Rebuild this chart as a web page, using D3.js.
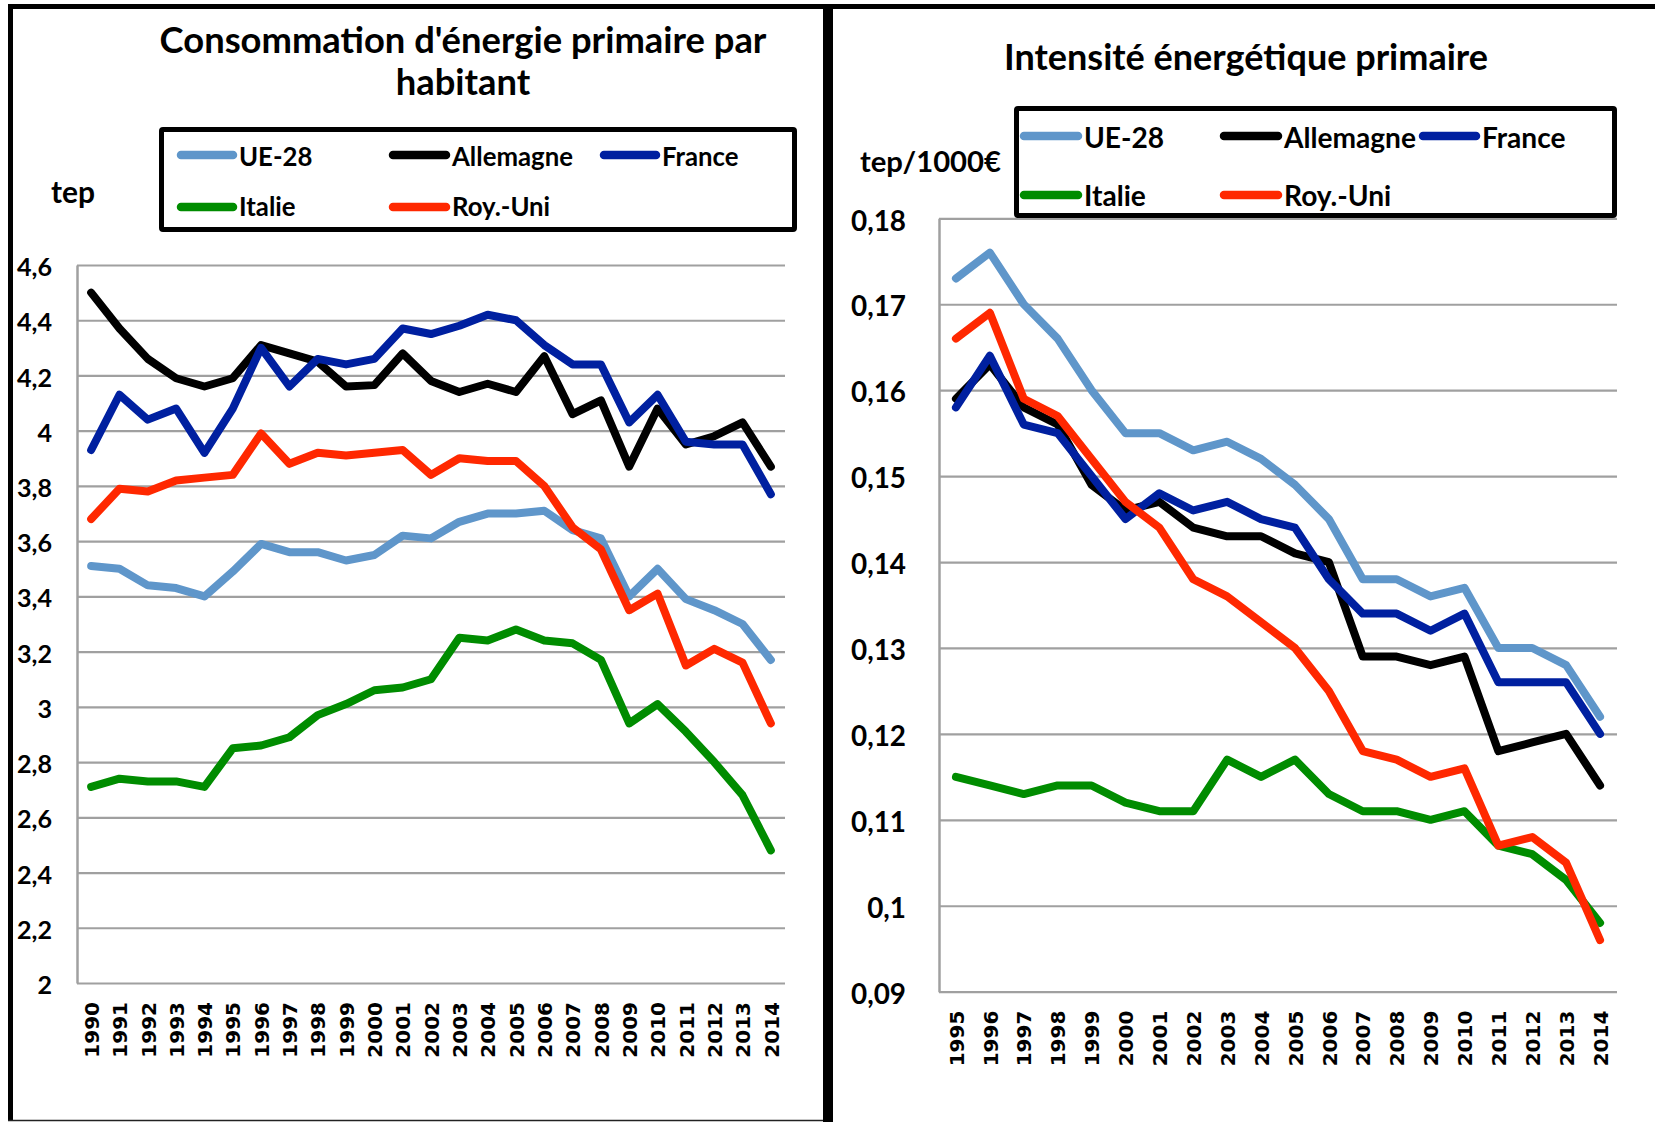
<!DOCTYPE html>
<html><head><meta charset="utf-8">
<script src="https://cdn.jsdelivr.net/npm/d3@7"></script>
<style>
body{margin:0;background:#fff}
svg{display:block}
text{font-family:Lato,"Open Sans",sans-serif;font-weight:bold;fill:#000}
.xt text{font-family:"DejaVu Sans",sans-serif;font-weight:bold}
</style></head>
<body>
<svg id="c" width="1655" height="1122"></svg>
<script>
// ---------- data ----------
const seriesNames = ["UE-28", "Allemagne", "France", "Italie", "Roy.-Uni"];
const seriesColors = ["#5f96ca", "#000000", "#0020a0", "#008c00", "#ff2800"];

const yearsLeft = ["1990","1991","1992","1993","1994","1995","1996","1997","1998","1999","2000","2001","2002","2003","2004","2005","2006","2007","2008","2009","2010","2011","2012","2013","2014"];
const ue28Left = [3.51,3.50,3.44,3.43,3.40,3.49,3.59,3.56,3.56,3.53,3.55,3.62,3.61,3.67,3.70,3.70,3.71,3.64,3.61,3.40,3.50,3.39,3.35,3.30,3.17];
const allemagneLeft = [4.50,4.37,4.26,4.19,4.16,4.19,4.31,4.28,4.25,4.16,4.165,4.28,4.18,4.14,4.17,4.14,4.27,4.06,4.11,3.87,4.08,3.95,3.98,4.03,3.87];
const franceLeft = [3.93,4.13,4.04,4.08,3.92,4.08,4.30,4.16,4.26,4.24,4.26,4.37,4.35,4.38,4.42,4.40,4.31,4.24,4.24,4.03,4.13,3.96,3.95,3.95,3.77];
const italieLeft = [2.71,2.74,2.73,2.73,2.71,2.85,2.86,2.89,2.97,3.01,3.06,3.07,3.10,3.25,3.24,3.28,3.24,3.23,3.17,2.94,3.01,2.91,2.80,2.68,2.48];
const royUniLeft = [3.68,3.79,3.78,3.82,3.83,3.84,3.99,3.88,3.92,3.91,3.92,3.93,3.84,3.90,3.89,3.89,3.80,3.65,3.57,3.35,3.41,3.15,3.21,3.16,2.94];
const ticksLeft = [2, 2.2, 2.4, 2.6, 2.8, 3, 3.2, 3.4, 3.6, 3.8, 4, 4.2, 4.4, 4.6];

const yearsRight = ["1995","1996","1997","1998","1999","2000","2001","2002","2003","2004","2005","2006","2007","2008","2009","2010","2011","2012","2013","2014"];
const ue28Right = [0.173,0.176,0.170,0.166,0.160,0.155,0.155,0.153,0.154,0.152,0.149,0.145,0.138,0.138,0.136,0.137,0.130,0.130,0.128,0.122];
const allemagneRight = [0.159,0.163,0.158,0.156,0.149,0.146,0.147,0.144,0.143,0.143,0.141,0.140,0.129,0.129,0.128,0.129,0.118,0.119,0.120,0.114];
const franceRight = [0.158,0.164,0.156,0.155,0.150,0.145,0.148,0.146,0.147,0.145,0.144,0.138,0.134,0.134,0.132,0.134,0.126,0.126,0.126,0.120];
const italieRight = [0.115,0.114,0.113,0.114,0.114,0.112,0.111,0.111,0.117,0.115,0.117,0.113,0.111,0.111,0.110,0.111,0.107,0.106,0.103,0.098];
const royUniRight = [0.166,0.169,0.159,0.157,0.152,0.147,0.144,0.138,0.136,0.133,0.130,0.125,0.118,0.117,0.115,0.116,0.107,0.108,0.105,0.096];
const ticksRight = [0.09, 0.10, 0.11, 0.12, 0.13, 0.14, 0.15, 0.16, 0.17, 0.18];

const titleLeft = ["Consommation d'énergie primaire par", "habitant"];
const titleRight = "Intensité énergétique primaire";
const unitLeft = "tep";
const unitRight = "tep/1000€";

// ---------- helpers ----------
const svg = d3.select("#c");
function fitSize(sel, target){
  sel.style("font-size","100px");
  const w = sel.node().getComputedTextLength();
  const s = 100*target/w;
  sel.style("font-size", s+"px");
  return s;
}
const fmt = v => String(+v.toFixed(4)).replace(".", ",");

// ---------- frame ----------
const frame = svg.append("g").attr("fill","none");
frame.append("line").attr("x1",8).attr("x2",1655).attr("y1",6.5).attr("y2",6.5).attr("stroke","#000").attr("stroke-width",5);
frame.append("line").attr("x1",10.5).attr("x2",10.5).attr("y1",4).attr("y2",1121).attr("stroke","#000").attr("stroke-width",5);
frame.append("line").attr("x1",828).attr("x2",828).attr("y1",4).attr("y2",1122).attr("stroke","#000").attr("stroke-width",10);
frame.append("line").attr("x1",8).attr("x2",823).attr("y1",1120.5).attr("y2",1120.5).attr("stroke","#222").attr("stroke-width",1.5);

// ---------- chart builder ----------
function buildChart(cfg){
  const g = svg.append("g");
  const x = d3.scalePoint().domain(cfg.years).range([cfg.x0, cfg.x1]).padding(0.5);
  const y = d3.scaleLinear().domain(cfg.yDomain).range([cfg.y0, cfg.y1]);

  // gridlines + y labels
  const ya = g.append("g").attr("transform",`translate(${cfg.x0},0)`)
    .call(d3.axisLeft(y).tickValues(cfg.ticks).tickSizeInner(-(cfg.x1-cfg.x0)).tickSizeOuter(0)
      .tickPadding(cfg.labelPad).tickFormat(fmt));
  ya.select(".domain").attr("stroke","#a0a0a0").attr("stroke-width",2.5);
  ya.selectAll(".tick line").attr("stroke","#a0a0a0").attr("stroke-width",2.2);
  const yt = ya.selectAll(".tick text").attr("fill","#000").attr("dy","0.42em");
  let widest = null, wmax = 0;
  yt.each(function(){ const w=this.getComputedTextLength(); if(w>wmax){wmax=w;widest=this;} });
  const ys = fitSize(d3.select(widest), cfg.tickLabelWidth);
  yt.style("font-size", ys+"px").style("font-family","Lato,sans-serif").style("font-weight","bold");

  // x labels
  const xa = g.append("g").attr("class","xt").attr("transform",`translate(0,${cfg.y0})`)
    .call(d3.axisBottom(x).tickSize(0));
  xa.select(".domain").remove();
  xa.selectAll(".tick text").attr("fill","#000")
    .attr("transform","rotate(-90)").attr("x",-cfg.xLabelGap).attr("y",0).attr("dy","0.36em")
    .style("text-anchor","end").style("font-size",cfg.xFont+"px");

  // lines
  const line = d3.line().x((d,i)=>x(cfg.years[i])).y(d=>y(d));
  cfg.series.forEach((s,i)=>{
    g.append("path").datum(s).attr("d",line).attr("fill","none")
      .attr("stroke",seriesColors[i]).attr("stroke-width",cfg.lw)
      .attr("stroke-linejoin","round").attr("stroke-linecap","round");
  });

  // legend
  const L = cfg.legend;
  g.append("rect").attr("x",L.x).attr("y",L.y).attr("width",L.w).attr("height",L.h)
    .attr("fill","#fff").attr("stroke","#000").attr("stroke-width",5).attr("rx",1.5);
  const pos = [[0,0],[1,0],[2,0],[0,1],[1,1]];
  const texts = [];
  seriesNames.forEach((n,i)=>{
    const [ci,ri] = pos[i];
    const [sx0,sx1] = L.cols[ci];
    const sy = L.rowsSw[ri];
    g.append("line").attr("x1",sx0+4).attr("x2",sx1-4).attr("y1",sy).attr("y2",sy)
      .attr("stroke",seriesColors[i]).attr("stroke-width",8.5).attr("stroke-linecap","round");
    texts.push(g.append("text").attr("x",sx1+2).attr("y",L.rowsTx[ri]).text(n));
  });
  const ls = fitSize(texts[1], L.refWidth);
  texts.forEach(t=>t.style("font-size",ls+"px"));

  // unit label
  const u = g.append("text").attr("x",cfg.unit.x).attr("y",cfg.unit.y).text(cfg.unit.text);
  fitSize(u, cfg.unit.w);

  // title
  const t0 = g.append("text").attr("x",cfg.title.cx).attr("y",cfg.title.ys[0]).attr("text-anchor","middle").text(cfg.title.lines[0]);
  const ts = fitSize(t0, cfg.title.w);
  for(let k=1;k<cfg.title.lines.length;k++){
    g.append("text").attr("x",cfg.title.cx).attr("y",cfg.title.ys[k]).attr("text-anchor","middle")
      .style("font-size",ts+"px").text(cfg.title.lines[k]);
  }
}

buildChart({
  years: yearsLeft, x0: 77, x1: 785, yDomain:[2,4.6], y0: 983, y1: 265,
  ticks: ticksLeft, labelPad: 25, tickLabelWidth: 35, xLabelGap: 19, xFont: 20, lw: 8,
  series: [ue28Left, allemagneLeft, franceLeft, italieLeft, royUniLeft],
  legend: {x:161.5, y:129.5, w:633, h:100,
    cols: [[177,237],[389,450],[600,660]], rowsSw:[155,207], rowsTx:[166,216], refWidth:121},
  unit: {x:51, y:203, w:44, text:unitLeft},
  title: {cx:463, ys:[53,95], w:607, lines:titleLeft}
});

buildChart({
  years: yearsRight, x0: 939, x1: 1617, yDomain:[0.09,0.18], y0: 991.7, y1: 218.3,
  ticks: ticksRight, labelPad: 33, tickLabelWidth: 55, xLabelGap: 19, xFont: 20, lw: 8,
  series: [ue28Right, allemagneRight, franceRight, italieRight, royUniRight],
  legend: {x:1016.5, y:108.5, w:598, h:107,
    cols: [[1020,1082],[1220,1282],[1419,1480]], rowsSw:[136,195], rowsTx:[148,206], refWidth:132},
  unit: {x:860, y:172, w:141, text:unitRight},
  title: {cx:1246, ys:[70], w:484, lines:[titleRight]}
});
</script>
</body></html>
